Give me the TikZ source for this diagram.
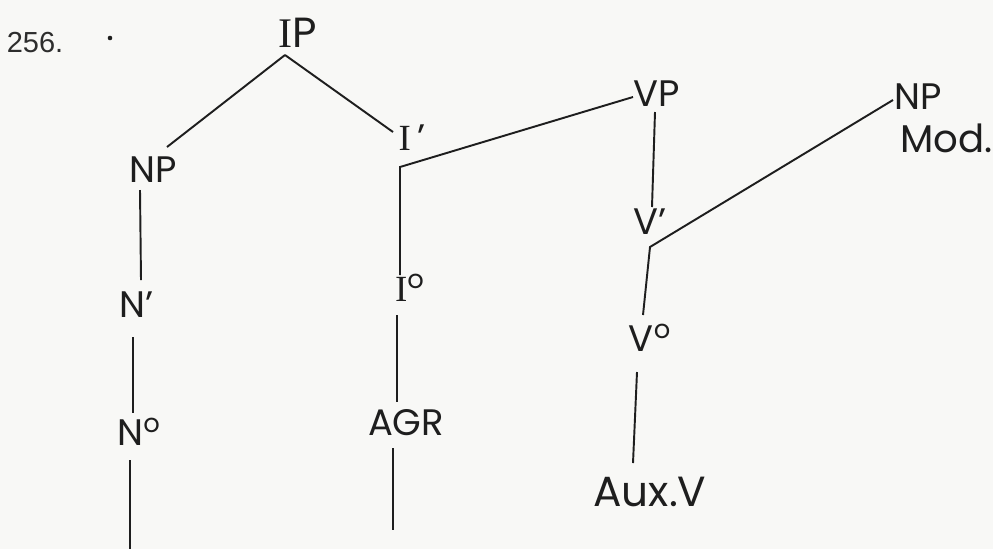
\documentclass[tikz,border=0pt]{standalone}
\usepackage{fontspec}
\setmainfont{Poppins}
\newfontfamily\numfont{Liberation Sans}
\newfontfamily\serifI{Liberation Serif}
\definecolor{ink}{RGB}{30,30,30}
\definecolor{numcol}{RGB}{45,45,45}
\definecolor{bgcol}{RGB}{248,248,246}
\newcommand{\bI}{{\serifI I}}
\begin{document}
\begin{tikzpicture}[x=0.02cm,y=-0.02cm,
  lab/.style={inner sep=0pt, text=ink, font=\fontsize{21}{24}\selectfont},
  biglab/.style={lab, font=\fontsize{24}{28}\selectfont},
  edge/.style={draw=ink, line width=1.1pt}]
\fill[bgcol] (0,0) rectangle (993,549);
\useasboundingbox (0,0) rectangle (993,549);

% labels
\node[inner sep=0pt, text=numcol, font=\numfont\fontsize{16.5}{18}\selectfont] (num) at (35,43) {256.};
\node[circle, fill=ink, inner sep=0pt, minimum size=2.6pt] (star) at (110,38) {};

\node[biglab] (IP) at (298,33) {\bI P};
\node[lab] (NP) at (153,170) {NP};
\node[lab] (Ibar) at (412,138) {\bI\,'};
\node[lab] (VP) at (657,94) {VP};
\node[lab] (NPm) at (918,97) {NP};
\node[lab, anchor=west, font=\fontsize{22}{26}\selectfont] (Mod) at (900,138) {Mod.};
\node[lab] (Nbar) at (137,305) {N'};
\node[lab] (Izero) at (410,288) {\bI\textsuperscript{o}};
\node[lab] (Vbar) at (650,222) {V'};
\node[lab] (Nzero) at (139,432) {N\textsuperscript{o}};
\node[lab] (AGR) at (406,423) {AGR};
\node[lab] (Vzero) at (650,338) {V\textsuperscript{o}};
\node[biglab] (AuxV) at (650,492) {Aux.V};

\coordinate (Nend) at (130,549);
\coordinate (Aend) at (393,530);

% connectors
\draw[edge] ([shift={(-13,22)}]IP.center) -- ([shift={(14,-23)}]NP.center);
\draw[edge] ([shift={(-13,22)}]IP.center) -- ([shift={(-19,-6)}]Ibar.center);
\draw[edge] ([shift={(-24,3)}]VP.center) -- ([shift={(-12,29)}]Ibar.center)
            -- ([shift={(-10,-13)}]Izero.center);
\draw[edge] ([shift={(-13,27)}]Izero.center) -- ([shift={(-9,-21)}]AGR.center);
\draw[edge] ([shift={(-13,25)}]AGR.center) -- (Aend);
\draw[edge] ([shift={(-2,18)}]VP.center) -- ([shift={(2,-15)}]Vbar.center);
\draw[edge] ([shift={(-25,3)}]NPm.center) -- ([shift={(0,25)}]Vbar.center)
            -- ([shift={(-7,-23)}]Vzero.center);
\draw[edge] ([shift={(-13,34)}]Vzero.center) -- ([shift={(-17,-29)}]AuxV.center);
\draw[edge] ([shift={(-13,20)}]NP.center) -- ([shift={(4,-25)}]Nbar.center);
\draw[edge] ([shift={(-4,32)}]Nbar.center) -- ([shift={(-6,-19)}]Nzero.center);
\draw[edge] ([shift={(-9,28)}]Nzero.center) -- (Nend);
\end{tikzpicture}
\end{document}
